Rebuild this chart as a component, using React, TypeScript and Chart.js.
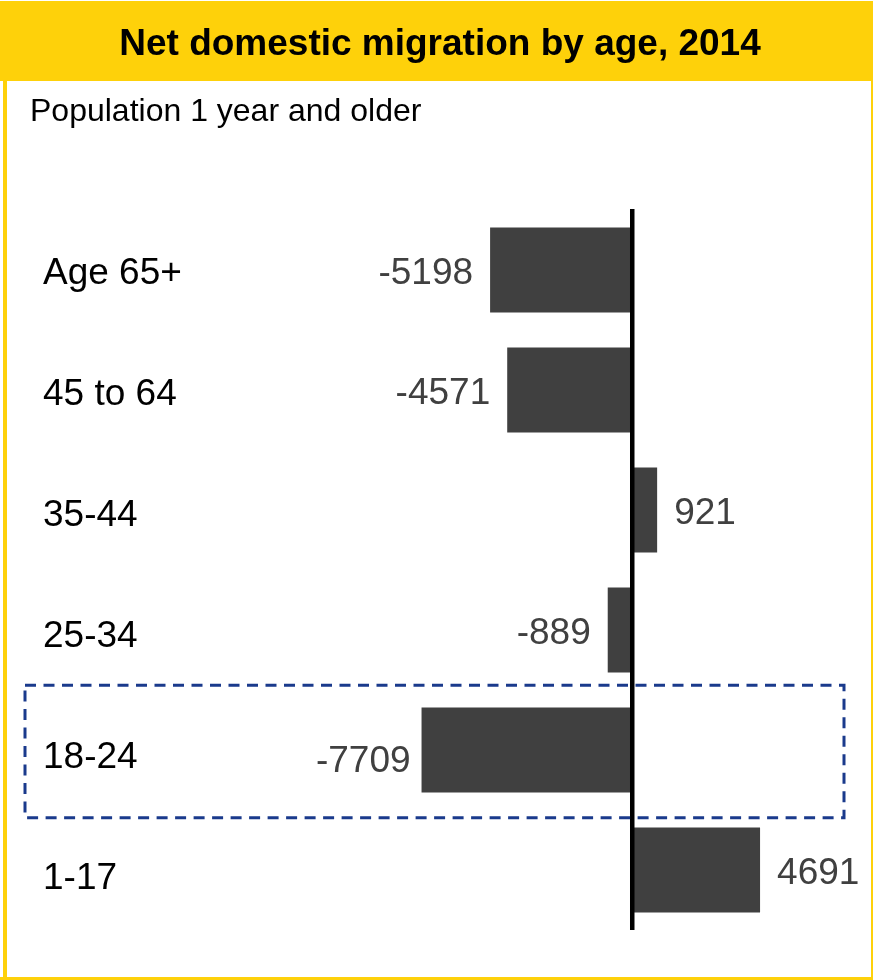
import React, { useEffect, useRef } from "react";
import { Chart, registerables } from "chart.js";

Chart.register(...registerables);

// Age groups, top to bottom
const categories: string[] = ["Age 65+", "45 to 64", "35-44", "25-34", "18-24", "1-17"];
// Net domestic migration, persons
const netMigration: number[] = [-5198, -4571, 921, -889, -7709, 4691];
// Row that gets the dashed highlight box
const highlightedCategory = "18-24";

const TITLE = "Net domestic migration by age, 2014";
const SUBTITLE = "Population 1 year and older";

const FONT = "'Liberation Sans', Arial, Helvetica, sans-serif";
const YELLOW = "#FED10A";
const BAR = "#404040";
const NAVY = "#1A3A8C";

const W = 873;
const H = 980;

const framePlugin = {
  id: "frame",
  beforeDraw(chart: any) {
    const ctx = chart.ctx as CanvasRenderingContext2D;
    ctx.save();
    ctx.fillStyle = "#ffffff";
    ctx.fillRect(0, 0, W, H);
    // title band and frame
    ctx.fillStyle = YELLOW;
    ctx.fillRect(0, 1, W, 80);
    ctx.fillRect(3, 1, 4, H - 1);
    ctx.fillRect(W - 2, 1, 2, H - 1);
    ctx.fillRect(0, H - 3, W, 3);
    // title
    ctx.fillStyle = "#000000";
    ctx.font = `bold 37px ${FONT}`;
    ctx.textAlign = "center";
    ctx.textBaseline = "alphabetic";
    ctx.fillText(TITLE, 440, 55);
    // subtitle
    ctx.font = `32px ${FONT}`;
    ctx.textAlign = "left";
    ctx.fillText(SUBTITLE, 30, 121);
    ctx.restore();
  },
  afterDatasetsDraw(chart: any) {
    const ctx = chart.ctx as CanvasRenderingContext2D;
    const xs = chart.scales.x;
    const ys = chart.scales.y;
    const area = chart.chartArea;
    const x0 = xs.getPixelForValue(0);
    const pitch = (area.bottom - area.top) / categories.length;
    ctx.save();

    // zero line
    ctx.fillStyle = "#000000";
    ctx.fillRect(x0 - 2, area.top - 1, 4.5, area.bottom - area.top + 1);

    // category labels
    ctx.font = `37px ${FONT}`;
    ctx.textAlign = "left";
    ctx.textBaseline = "alphabetic";
    categories.forEach((c, i) => {
      const yc = ys.getPixelForValue(i);
      ctx.fillStyle = "#000000";
      ctx.fillText(c, 43, yc + 14 + i);
    });

    // value labels
    ctx.fillStyle = BAR;
    netMigration.forEach((v, i) => {
      const yc = ys.getPixelForValue(i);
      const xe = xs.getPixelForValue(v);
      const hl = categories[i] === highlightedCategory;
      if (v < 0) {
        ctx.textAlign = "right";
        ctx.fillText(String(v), xe - 17 + (hl ? 6 : 0), yc + (hl ? 22 : 14));
      } else {
        ctx.textAlign = "left";
        ctx.fillText(String(v), xe + 17, yc + 14);
      }
    });

    // dashed highlight box
    const hi = categories.indexOf(highlightedCategory);
    if (hi >= 0) {
      const yc = ys.getPixelForValue(hi);
      const top = yc - pitch * 0.54;
      const bottom = yc + pitch * 0.565;
      ctx.strokeStyle = NAVY;
      ctx.lineWidth = 3;
      ctx.setLineDash([11, 7.5]);
      ctx.strokeRect(25, top, 844 - 25, bottom - top);
    }
    ctx.restore();
  },
};

export default function App() {
  const ref = useRef<HTMLCanvasElement | null>(null);

  useEffect(() => {
    if (!ref.current) return;
    const chart = new Chart(ref.current, {
      type: "bar",
      data: {
        labels: categories,
        datasets: [
          {
            data: netMigration,
            backgroundColor: BAR,
            borderWidth: 0,
            categoryPercentage: 1,
            barPercentage: 0.708,
          },
        ],
      },
      options: {
        indexAxis: "y",
        animation: false,
        responsive: false,
        devicePixelRatio: 1,
        events: [],
        layout: { padding: { left: 0, right: 0, top: 210, bottom: 50 } },
        plugins: {
          legend: { display: false },
          title: { display: false },
          tooltip: { enabled: false },
        },
        scales: {
          x: { display: false, min: -23150, max: 8828, grid: { display: false } },
          y: { display: false, grid: { display: false } },
        },
      },
      plugins: [framePlugin],
    });
    return () => chart.destroy();
  }, []);

  return (
    <div style={{ position: "fixed", left: 0, top: 0, width: W, height: H }}>
      <canvas ref={ref} width={W} height={H} style={{ width: W, height: H, display: "block" }} />
    </div>
  );
}
